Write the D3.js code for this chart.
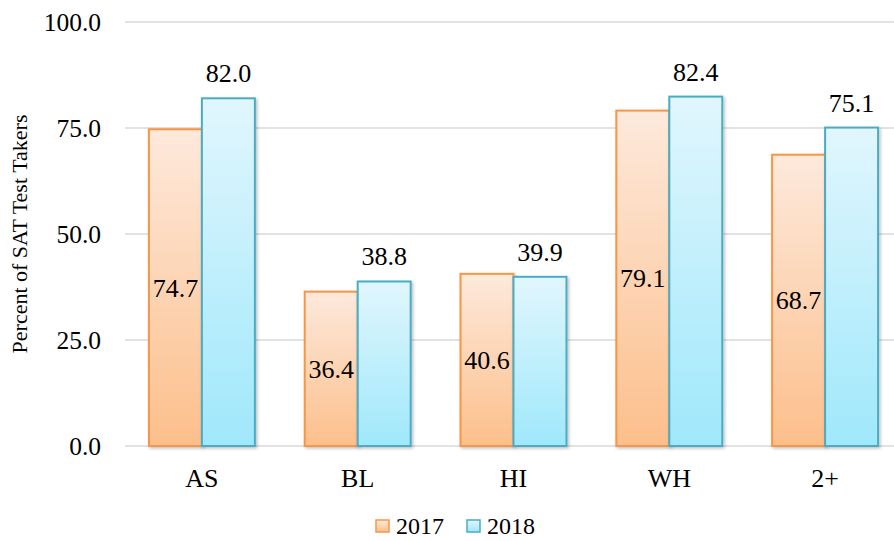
<!DOCTYPE html>
<html>
<head>
<meta charset="utf-8">
<script src="https://cdn.jsdelivr.net/npm/d3@7"></script>
<style>
  body { margin: 0; background: #fff; }
  text { font-family: "Liberation Serif", "Times New Roman", serif; fill: #000; }
</style>
</head>
<body>
<div id="plot"></div>
<script>
// values
const categories = ["AS", "BL", "HI", "WH", "2+"];
const years = ["2017", "2018"];
const values2017 = [74.7, 36.4, 40.6, 79.1, 68.7];
const values2018 = [82.0, 38.8, 39.9, 82.4, 75.1];
const yTicks = [0, 25, 50, 75, 100];

const width = 894, height = 541;

const svg = d3.select("#plot")
  .append("svg")
    .attr("width", width)
    .attr("height", height);

const defs = svg.append("defs");

// one gradient per series, light at the top of each bar
const grads = [
  { id: "g2017", top: "#fde9dc", bottom: "#fcbf8b", stroke: "#f79646" },
  { id: "g2018", top: "#e1f6fd", bottom: "#9fe8fb", stroke: "#4bacc6" }
];
grads.forEach(function(g) {
  const lg = defs.append("linearGradient")
    .attr("id", g.id)
    .attr("x1", 0).attr("y1", 0).attr("x2", 0).attr("y2", 1);
  lg.append("stop").attr("offset", "0%").attr("stop-color", g.top);
  lg.append("stop").attr("offset", "100%").attr("stop-color", g.bottom);
});

const shadow = defs.append("filter").attr("id", "shadow")
  .attr("x", "-10%").attr("y", "-10%").attr("width", "130%").attr("height", "130%");
shadow.append("feDropShadow")
  .attr("dx", 1.5).attr("dy", 1.5).attr("stdDeviation", 1.5)
  .attr("flood-color", "#000").attr("flood-opacity", 0.25);

const x = d3.scaleBand()
  .domain(categories)
  .range([124, 903])
  .paddingInner(0.32)
  .paddingOuter(0.16);

const xs = d3.scaleBand()
  .domain(years)
  .range([0, x.bandwidth()]);

const y = d3.scaleLinear()
  .domain([0, 100])
  .range([446, 22]);

// gridlines
svg.append("g")
  .selectAll("line")
  .data(yTicks)
  .enter().append("line")
    .attr("x1", 125)
    .attr("x2", width)
    .attr("y1", function(d) { return y(d); })
    .attr("y2", function(d) { return y(d); })
    .attr("stroke", "#d9d9d9")
    .attr("stroke-width", 1.5);

// tick labels
svg.append("g")
  .selectAll("text")
  .data(yTicks)
  .enter().append("text")
    .attr("x", 101)
    .attr("y", function(d) { return y(d); })
    .attr("dy", "0.35em")
    .attr("text-anchor", "end")
    .style("font-size", "25.5px")
    .text(function(d) { return d.toFixed(1); });

// y axis title
svg.append("text")
  .attr("transform", "translate(27," + y(50) + ") rotate(-90)")
  .attr("text-anchor", "middle")
  .style("font-size", "22px")
  .text("Percent of SAT Test Takers");

// category labels
svg.append("g")
  .selectAll("text")
  .data(categories)
  .enter().append("text")
    .attr("x", function(d) { return x(d) + x.bandwidth() / 2; })
    .attr("y", 487)
    .attr("text-anchor", "middle")
    .style("font-size", "26px")
    .text(function(d) { return d; });

const series = [
  { year: "2017", values: values2017, grad: grads[0] },
  { year: "2018", values: values2018, grad: grads[1] }
];

series.forEach(function(s) {
  const g = svg.append("g");
  g.selectAll("rect")
    .data(s.values)
    .enter().append("rect")
      .attr("x", function(d, i) { return x(categories[i]) + xs(s.year); })
      .attr("y", function(d) { return y(d); })
      .attr("width", xs.bandwidth())
      .attr("height", function(d) { return y(0) - y(d); })
      .attr("fill", "url(#" + s.grad.id + ")")
      .attr("stroke", s.grad.stroke)
      .attr("stroke-width", 2)
      .attr("filter", "url(#shadow)");
});

// 2017 labels sit in the middle of the bar, 2018 labels above it
svg.append("g")
  .selectAll("text")
  .data(values2017)
  .enter().append("text")
    .attr("x", function(d, i) { return x(categories[i]) + xs("2017") + xs.bandwidth() / 2; })
    .attr("y", function(d) { return (y(d) + y(0)) / 2; })
    .attr("dy", "0.35em")
    .attr("text-anchor", "middle")
    .style("font-size", "26px")
    .text(function(d) { return d.toFixed(1); });

svg.append("g")
  .selectAll("text")
  .data(values2018)
  .enter().append("text")
    .attr("x", function(d, i) { return x(categories[i]) + xs("2018") + xs.bandwidth() / 2; })
    .attr("y", function(d) { return y(d) - 16; })
    .attr("text-anchor", "middle")
    .style("font-size", "26px")
    .text(function(d) { return d.toFixed(1); });

// legend
const legendX = [376, 467];
const legend = svg.append("g")
  .selectAll("g")
  .data(series)
  .enter().append("g")
    .attr("transform", function(d, i) { return "translate(" + legendX[i] + ",520)"; });

legend.append("rect")
  .attr("width", 13)
  .attr("height", 12)
  .attr("fill", function(d) { return "url(#" + d.grad.id + ")"; })
  .attr("stroke", function(d) { return d.grad.stroke; })
  .attr("stroke-width", 1.5);

legend.append("text")
  .attr("x", 20)
  .attr("y", 6)
  .attr("dy", "0.35em")
  .style("font-size", "24px")
  .text(function(d) { return d.year; });
</script>
</body>
</html>
